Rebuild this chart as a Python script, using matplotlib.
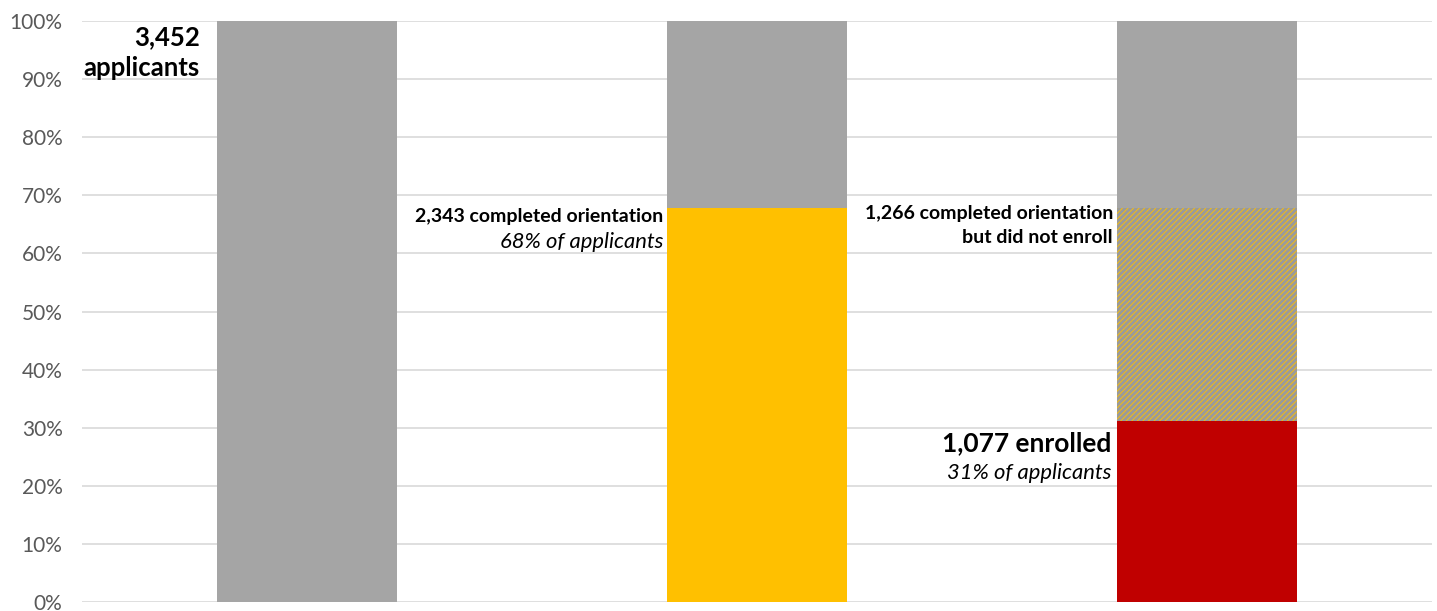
import matplotlib
matplotlib.use("Agg")
import matplotlib.pyplot as plt
from matplotlib.ticker import PercentFormatter

total_applicants = 3452
completed_orientation = 2343
enrolled = 1077
not_enrolled = completed_orientation - enrolled  # 1266

stages = ["Applicants", "Orientation", "Enrolled"]
enrolled_share = [0, 0, enrolled / total_applicants]
orient_share = [0, completed_orientation / total_applicants, not_enrolled / total_applicants]
applicant_share = [1.0, 1 - completed_orientation / total_applicants,
                   1 - completed_orientation / total_applicants]
yticks = [0, 0.1, 0.2, 0.3, 0.4, 0.5, 0.6, 0.7, 0.8, 0.9, 1.0]

plt.rcParams['font.family'] = ['Lato', 'DejaVu Sans']
plt.rcParams['hatch.linewidth'] = 2.2
plt.rcParams['hatch.color'] = '#9A9A9A'

fig = plt.figure(figsize=(14.37, 6.11), dpi=100)
ax = fig.add_axes([82 / 1437, 9 / 611, 1350 / 1437, 581 / 611])

x = list(range(len(stages)))
w = 0.4
GRAY = '#A5A5A5'
YELLOW = '#FFC000'
RED = '#C00000'

# Stack
ax.bar(x[2], enrolled_share[2], width=w, color=RED, zorder=2)
ax.bar(x[1], orient_share[1], width=w, color=YELLOW, zorder=2)
ax.bar(x[2], orient_share[2], width=w, bottom=enrolled_share[2], facecolor=YELLOW,
       edgecolor='#9A9A9A', hatch='//////', linewidth=0, zorder=2)
bottoms = [0, orient_share[1], enrolled_share[2] + orient_share[2]]
ax.bar(x, applicant_share, width=w, bottom=bottoms, color=GRAY, zorder=2)

ax.set_xlim(-0.5, 2.5)
ax.set_ylim(0, 1.0)
ax.set_yticks(yticks)
ax.yaxis.set_major_formatter(PercentFormatter(1.0, decimals=0))
ax.tick_params(axis='y', length=0, labelsize=15, labelcolor='#595959', pad=14)
ax.set_xticks([])
for s in ax.spines.values():
    s.set_visible(False)
ax.grid(axis='y', color='#D9D9D9', linewidth=1.2, zorder=0)
ax.set_axisbelow(True)

def lbl(xv, yv, txt, **kw):
    ax.text(xv, yv, txt, ha='right', va='center', color='black', **kw)

lbl(x[0] - w / 2 - 0.038, 0.972, f"{total_applicants:,}", fontsize=18.5, fontweight='bold')
lbl(x[0] - w / 2 - 0.038, 0.919, "applicants", fontsize=18.5, fontweight='bold')

lbl(x[1] - w / 2 - 0.009, 0.663, f"{completed_orientation:,} completed orientation",
    fontsize=14, fontweight='bold')
lbl(x[1] - w / 2 - 0.009, 0.619,
    f"{round(100 * completed_orientation / total_applicants)}% of applicants",
    fontsize=15.8, fontstyle='italic')

lbl(x[2] - w / 2 - 0.009, 0.668, f"{not_enrolled:,} completed orientation",
    fontsize=14, fontweight='bold')
lbl(x[2] - w / 2 - 0.009, 0.627, "but did not enroll", fontsize=14, fontweight='bold')

lbl(x[2] - w / 2 - 0.013, 0.273, f"{enrolled:,} enrolled", fontsize=19, fontweight='bold')
lbl(x[2] - w / 2 - 0.013, 0.222,
    f"{round(100 * enrolled / total_applicants)}% of applicants",
    fontsize=15.8, fontstyle='italic')

fig.savefig("out.png", dpi=100)
